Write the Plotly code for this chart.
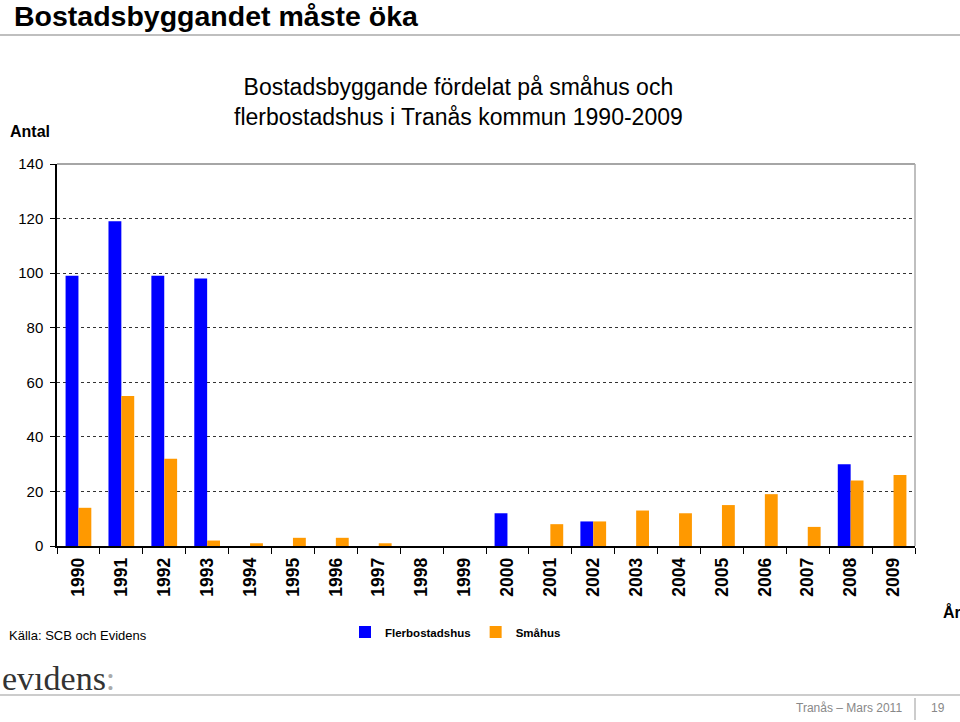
import plotly.graph_objects as go

years = [str(y) for y in range(1990, 2010)]
flerbostadshus = [99, 119, 99, 98, 0, 0, 0, 0, 0, 0, 12, 0, 9, 0, 0, 0, 0, 0, 30, 0]
smahus = [14, 55, 32, 2, 1, 3, 3, 1, 0, 0, 0, 8, 9, 13, 12, 15, 19, 7, 24, 26]
y_ticks = [0, 20, 40, 60, 80, 100, 120, 140]

FONT = "Liberation Sans, Arial, sans-serif"

fig = go.Figure()
fig.add_trace(go.Bar(x=years, y=flerbostadshus, name="Flerbostadshus",
                     marker=dict(color="#0000ff", line=dict(width=0))))
fig.add_trace(go.Bar(x=years, y=smahus, name="Småhus",
                     marker=dict(color="#ff9900", line=dict(width=0))))

L, R, T, B = 57, 45, 164, 176
PW = 960 - L - R
PH = 722 - T - B


def px(xp):
    return (xp - L) / PW


def py(yp):
    return 1 - (yp - T) / PH


fig.update_layout(
    width=960, height=722,
    margin=dict(l=L, r=R, t=T, b=B, autoexpand=False),
    paper_bgcolor="white", plot_bgcolor="white",
    barmode="group", bargap=0.4, bargroupgap=0,
    font=dict(family=FONT, color="black"),
    showlegend=True,
    legend=dict(orientation="h", x=px(345), y=py(632), xanchor="left", yanchor="middle",
                font=dict(size=11.5, family=FONT, color="black", weight="bold"),
                itemwidth=30, tracegroupgap=0, bgcolor="rgba(0,0,0,0)"),
)
fig.update_xaxes(
    type="category", showline=True, linecolor="black", linewidth=1.5,
    ticks="outside", tickson="boundaries", ticklen=6, tickcolor="black",
    tickangle=-90, tickfont=dict(size=17.5, family=FONT, color="black", weight="bold"),
    ticklabelstandoff=3,
    showgrid=False, zeroline=False,
)
fig.update_yaxes(
    range=[0, 140], tickvals=y_ticks, showline=True, linecolor="black", linewidth=1.5,
    ticks="outside", ticklen=5, tickcolor="black",
    tickfont=dict(size=15, family=FONT, color="black"),
    ticklabelstandoff=4,
    showgrid=True, gridcolor="#333333", gridwidth=1, griddash="dot",
    zeroline=False,
)

# top border and right border (gray)
fig.add_shape(type="line", xref="paper", yref="paper", x0=0, x1=1, y0=1, y1=1,
              line=dict(color="#888888", width=1.5))
fig.add_shape(type="line", xref="paper", yref="paper", x0=1, x1=1, y0=0, y1=1,
              line=dict(color="#aaaaaa", width=1.5))

# page header
fig.add_annotation(text="<b>Bostadsbyggandet måste öka</b>", xref="paper", yref="paper",
                   x=px(12), y=py(16), xanchor="left", yanchor="middle", showarrow=False,
                   font=dict(size=28.5, family=FONT, color="black"))
fig.add_shape(type="line", xref="paper", yref="paper", x0=px(0), x1=px(960),
              y0=py(35), y1=py(35), line=dict(color="#aaaaaa", width=1.5))

fig.add_annotation(text="Bostadsbyggande fördelat på småhus och<br>flerbostadshus i Tranås kommun 1990-2009",
                   xref="paper", yref="paper", x=px(458), y=py(102),
                   xanchor="center", yanchor="middle", showarrow=False,
                   font=dict(size=23, family=FONT, color="black"))
fig.add_annotation(text="<b>Antal</b>", xref="paper", yref="paper", x=px(30), y=py(132),
                   xanchor="center", yanchor="middle", showarrow=False,
                   font=dict(size=16, family=FONT, color="black"))
fig.add_annotation(text="<b>År</b>", xref="paper", yref="paper", x=px(941), y=py(612),
                   xanchor="left", yanchor="middle", showarrow=False,
                   font=dict(size=16, family=FONT, color="black"))
fig.add_annotation(text="Källa: SCB och Evidens", xref="paper", yref="paper", x=px(7), y=py(635),
                   xanchor="left", yanchor="middle", showarrow=False,
                   font=dict(size=13, family=FONT, color="black"))
fig.add_annotation(text="evıdens<span style='color:#aaaaaa'>:</span>", xref="paper", yref="paper",
                   x=px(0), y=py(678), xanchor="left", yanchor="middle", showarrow=False,
                   font=dict(size=34, family="Liberation Serif, DejaVu Serif, serif", color="#333333"))
fig.add_shape(type="line", xref="paper", yref="paper", x0=px(0), x1=px(960),
              y0=py(695), y1=py(695), line=dict(color="#bbbbbb", width=1.5))
fig.add_shape(type="line", xref="paper", yref="paper", x0=px(915), x1=px(915),
              y0=py(698), y1=py(720), line=dict(color="#bbbbbb", width=1.5))
fig.add_annotation(text="Tranås – Mars 2011", xref="paper", yref="paper", x=px(904), y=py(708),
                   xanchor="right", yanchor="middle", showarrow=False,
                   font=dict(size=12, family=FONT, color="#888888"))
fig.add_annotation(text="19", xref="paper", yref="paper", x=px(938), y=py(708),
                   xanchor="center", yanchor="middle", showarrow=False,
                   font=dict(size=12, family=FONT, color="#888888"))

fig.write_html("out.html", config={"displayModeBar": False},
               post_script="document.body.style.margin='0';document.body.style.overflow='hidden';")
